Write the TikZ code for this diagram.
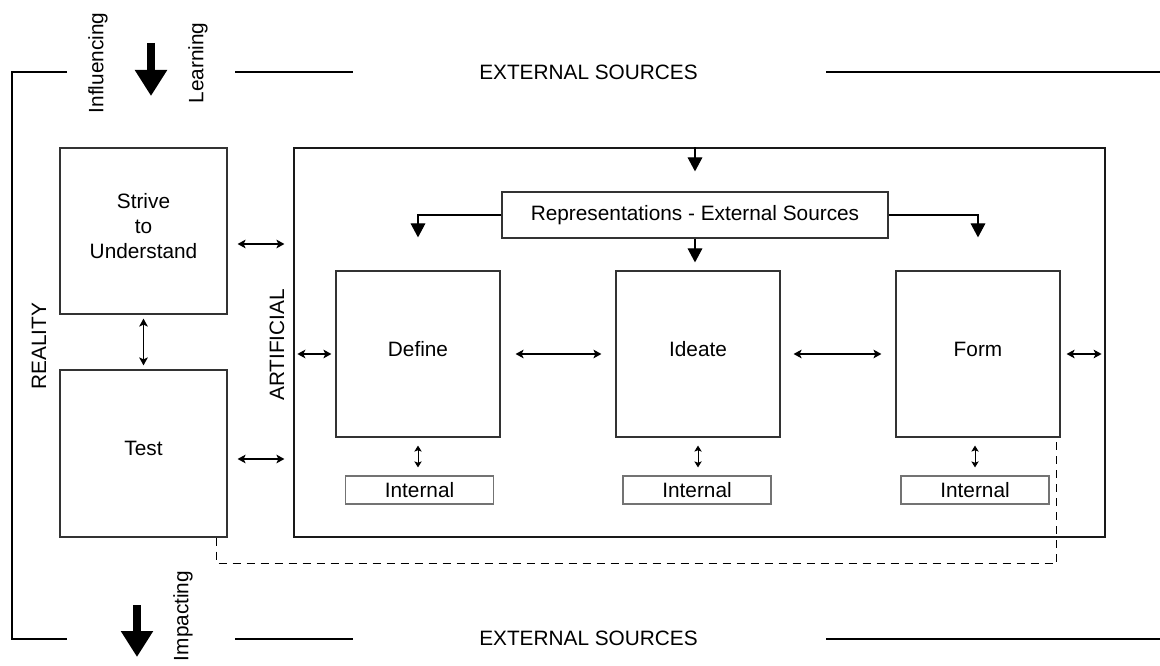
\documentclass[tikz,border=0pt]{standalone}
\usepackage{fontspec}
\setmainfont{Liberation Sans}
\usetikzlibrary{arrows.meta}
\usetikzlibrary{calc}
\tikzset{every picture/.style={line width=0.75pt}}
\tikzset{
  txt/.style={inner sep=0pt, font=\fontsize{15.6}{18.75}\selectfont},
  box/.style={txt, draw=black!80, line width=0.9pt, align=center},
  bigbox/.style={box, text depth=7.5pt},
  intbox/.style={txt, draw=black!55, line width=0.9pt, minimum width=111pt, minimum height=21pt},
  twoway/.style={{Stealth[length=6pt,width=6.5pt,inset=1.5pt]}-{Stealth[length=6pt,width=6.5pt,inset=1.5pt]}, line width=0.9pt},
  smallway/.style={{Stealth[length=4.5pt,width=5.5pt,inset=1pt]}-{Stealth[length=4.5pt,width=5.5pt,inset=1pt]}, line width=0.75pt},
  feed/.style={-{Triangle[length=10.5pt,width=11pt]}, line width=0.9pt},
  bigarrow/.style={line width=6pt, -{Triangle[length=19.5pt,width=23pt]}},
  frame/.style={line width=0.9pt, black},
  testlink/.style={draw=black, line width=1.2pt, dash pattern=on 6pt off 4.5pt}
}
\begin{document}
\begin{tikzpicture}[x=0.75pt,y=0.75pt,yscale=-1,xscale=1]
\useasboundingbox (0,0) rectangle (1160,666);

%Outer frame
\draw[frame] (67,72) -- (12,72) -- (12,639) -- (67,639);
\draw[frame] (235,72) -- (353,72);
\draw[frame] (826,72) -- (1160,72);
\draw[frame] (235,639) -- (353,639);
\draw[frame] (826,639) -- (1160,639);

% Text Node
\node[txt] (extop) at (588.5,72) {EXTERNAL SOURCES};
\node[txt] (exbot) at (588.5,638) {EXTERNAL SOURCES};
\node[txt, rotate=90] (influencing) at (98,63) {Influencing};
\node[txt, rotate=90] (learning) at (198,63) {Learning};
\node[txt, rotate=90] (impacting) at (183,616) {Impacting};
\node[txt, rotate=90] (reality) at (39,346) {REALITY};
\node[txt, rotate=90] (artlabel) at (277,345) {ARTIFICIAL};

%Big arrows
\coordinate (inA) at (151,43);
\coordinate (inB) at (151,96);
\coordinate (outA) at (137,605);
\coordinate (outB) at (137,657);
\draw[bigarrow] (inA) -- (inB);
\draw[bigarrow] (outA) -- (outB);

%Reality boxes
\node[bigbox, minimum width=125.25pt, minimum height=124.5pt] (strive) at (143.5,231) {Strive\\to\\Understand};
\node[bigbox, minimum width=125.25pt, minimum height=125.25pt] (test) at (143.5,453.5) {Test};

%Artificial box
\node[box, draw=black!90, minimum width=608.25pt, minimum height=291.75pt] (artificial) at (699.5,342.5) {};
\node[box, minimum width=289.5pt, minimum height=34.5pt] (rep) at (695,215) {Representations - External Sources};

\node[bigbox, minimum width=123pt, minimum height=124.5pt] (define) at (418,354) {Define};
\node[bigbox, minimum width=123pt, minimum height=124.5pt] (ideate) at (698,354) {Ideate};
\node[bigbox, minimum width=123pt, minimum height=124.5pt] (form) at (978,354) {Form};

\node[intbox] (defint) at (419.5,490) {Internal};
\node[intbox] (ideint) at (697,490) {Internal};
\node[intbox] (forint) at (975,490) {Internal};

%Feeds from external sources
\draw[feed, shorten >=15pt] (artificial.north -| rep.north) -- (rep.north);
\draw[feed, shorten >=6pt] (rep.south) -- (rep.south |- ideate.north);
\draw[feed, shorten >=24.75pt] (rep.west) -| (define.north);
\draw[feed, shorten >=24.75pt] (rep.east) -| (form.north);

%Two way links
\coordinate (sa) at ($(strive.east)+(0,13)$);
\coordinate (ta) at ($(test.east)+(0,5.5)$);
\draw[twoway, shorten <=7.5pt, shorten >=6.75pt] (sa) -- (sa -| artificial.west);
\draw[twoway, shorten <=7.5pt, shorten >=6.75pt] (ta) -- (ta -| artificial.west);
\draw[twoway, shorten <=3pt, shorten >=3pt] (strive.south) -- (test.north);
\draw[twoway, shorten <=3pt, shorten >=3pt] (artificial.west |- define.west) -- (define.west);
\draw[twoway, shorten <=11.25pt, shorten >=10.5pt] (define.east) -- (ideate.west);
\draw[twoway, shorten <=9.75pt, shorten >=10.5pt] (ideate.east) -- (form.west);
\draw[twoway, shorten <=4.5pt, shorten >=3pt] (form.east) -- (form.east -| artificial.east);

\draw[smallway, shorten <=6pt, shorten >=6pt] (define.south) -- (define.south |- defint.north);
\draw[smallway, shorten <=6pt, shorten >=6pt] (ideate.south) -- (ideate.south |- ideint.north);
\draw[smallway, shorten <=6pt, shorten >=6pt] (form.south -| forint.north) -- (forint.north);

%Dashed link test to form
\draw[testlink] ([xshift=-8.25pt]test.south east) -- ++(0,26) -| ([xshift=-3pt]form.south east);

\end{tikzpicture}
\end{document}
